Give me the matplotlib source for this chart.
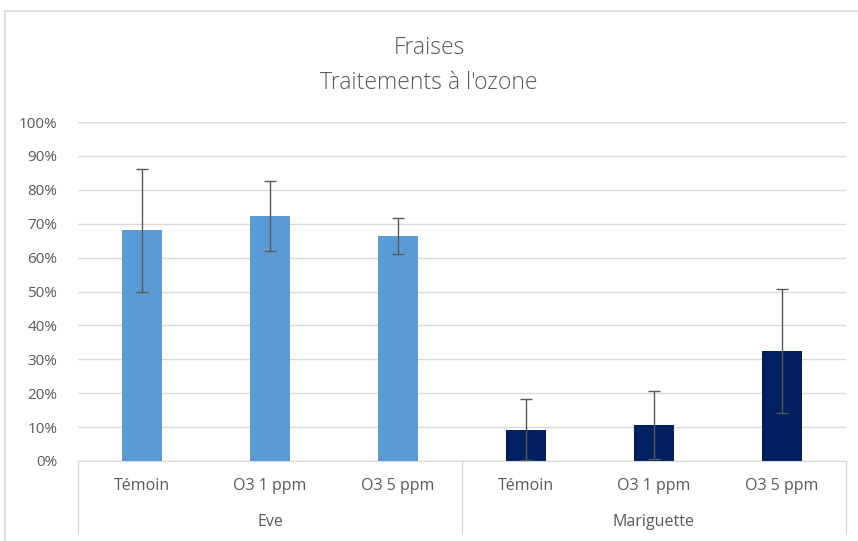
import numpy as np
import matplotlib.pyplot as plt
import matplotlib.transforms as mtransforms
from matplotlib.ticker import PercentFormatter

plt.rcParams['font.family'] = ['Open Sans', 'DejaVu Sans']

# donnees
groupes = ['Eve', 'Mariguette']
traitements = ['Témoin', 'O3 1 ppm', 'O3 5 ppm']
eve = [0.68, 0.723, 0.665]
eve_err = [0.181, 0.103, 0.053]
mari = [0.092, 0.106, 0.325]
mari_err = [0.09, 0.10, 0.182]

couleurs = ['#5B9BD5', '#002060']
gris = '#595959'

fig = plt.figure(figsize=(8.58, 5.41), dpi=100)
ax = fig.add_axes([78/858, 1-461/541, (846-78)/858, (461-122)/541])

x = np.arange(6)
valeurs = eve + mari
erreurs = eve_err + mari_err
cols = [couleurs[0]]*3 + [couleurs[1]]*3
ax.bar(x, valeurs, width=0.305, color=cols, zorder=2)
ax.errorbar(x, valeurs, yerr=erreurs, fmt='none', ecolor=gris, elinewidth=1,
            capsize=4, capthick=1, zorder=3)

ax.set_xlim(-0.5, 5.5)
ax.set_ylim(0, 1)
ax.set_yticks(np.arange(0, 1.01, 0.1))
ax.yaxis.set_major_formatter(PercentFormatter(1.0, decimals=0))
ax.grid(axis='y', color='#D9D9D9', lw=1, zorder=0)
for s in ['top', 'right', 'left']:
    ax.spines[s].set_visible(False)
ax.spines['bottom'].set_color('#D9D9D9')
ax.tick_params(axis='y', length=0, labelsize=11, labelcolor=gris, pad=15)
ax.tick_params(axis='x', length=0, labelsize=11.5, labelcolor=gris, pad=12)
ax.set_xticks(x)
ax.set_xticklabels(traitements * 2)

# separateurs et noms de groupes sous l'axe
trans = mtransforms.blended_transform_factory(ax.transData, ax.transAxes)
for xs in [-0.5, 2.5, 5.5]:
    ax.plot([xs, xs], [0, -0.215], color='#D9D9D9', lw=1, transform=trans, clip_on=False)
for i, g in enumerate(groupes):
    ax.text(1 + 3*i, -0.18, g, transform=trans, ha='center', va='center',
            fontsize=11.5, color=gris)

fig.text(0.5, 1-48/541, 'Fraises', ha='center', va='center', fontsize=16.5,
         color=gris, fontweight='light')
fig.text(0.5, 1-83/541, "Traitements à l'ozone", ha='center', va='center', fontsize=16.5,
         color=gris, fontweight='light')

# cadre du graphique
fig.add_artist(plt.Line2D([5/858, 1], [1-11/541, 1-11/541], color='#D9D9D9', lw=1.2,
                          transform=fig.transFigure))
fig.add_artist(plt.Line2D([5/858, 5/858], [0, 1-11/541], color='#D9D9D9', lw=1.2,
                          transform=fig.transFigure))

fig.savefig('out.png', dpi=100)
